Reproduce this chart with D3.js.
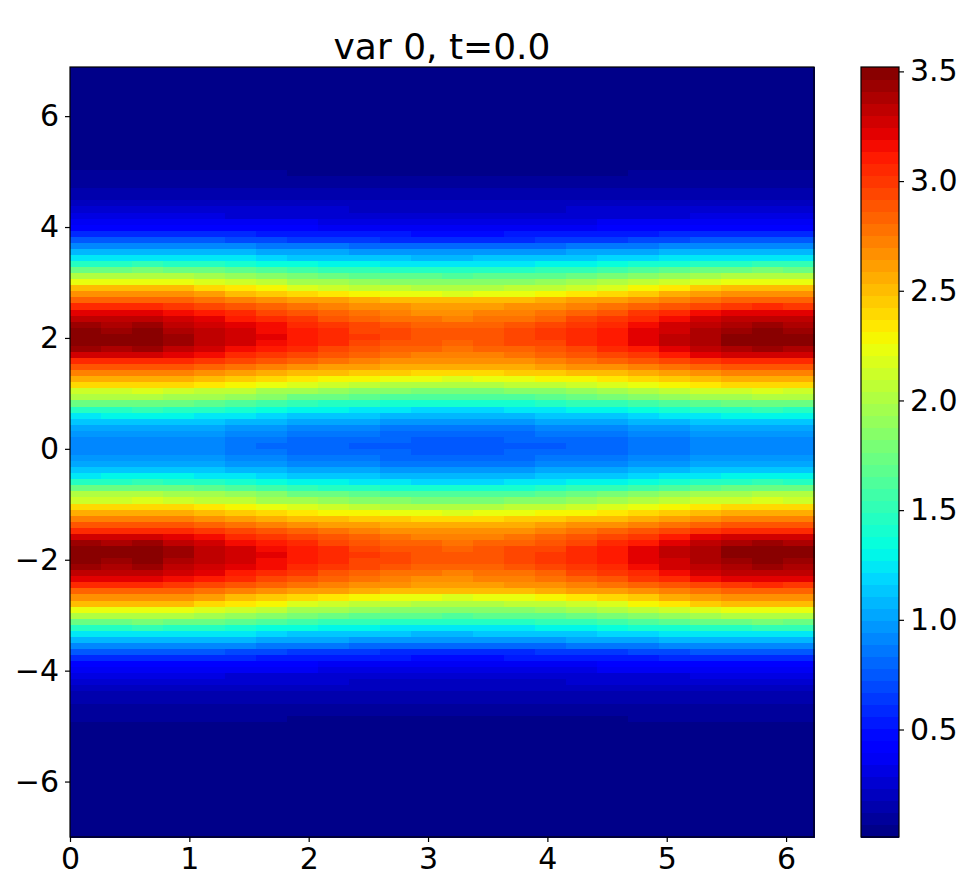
<!DOCTYPE html>
<html>
<head>
<meta charset="utf-8">
<script src="https://cdn.jsdelivr.net/npm/d3@7"></script>
<style>
html, body { margin: 0; padding: 0; background: #fff; }
svg { display: block; }
text { font-family: "DejaVu Sans", sans-serif; fill: #000; }
</style>
</head>
<body>
<svg id="chart" width="961" height="887"></svg>
<script>
var titleText = "var 0, t=0.0";
var xDomain = [0, 6.234];
var yDomain = [-7, 6.886];
var colorDomain = [0.01, 3.52];
var xTicks = [0, 1, 2, 3, 4, 5, 6];
var yTicks = [-6, -4, -2, 0, 2, 4, 6];
var colorTicks = [0.5, 1.0, 1.5, 2.0, 2.5, 3.0, 3.5];
var colorLevelCount = 64;

var jetStops = [0, 0.11, 0.125, 0.34, 0.35, 0.375, 0.64, 0.65, 0.66, 0.89, 0.91, 1];
var jetColors = ["#000080", "#0000ff", "#0000ff", "#00dbff", "#00e6f7", "#00ffe2", "#efff08", "#f7f500", "#ffec00", "#ff1300", "#e80000", "#800000"];

// values, in hundredths: one row per band from the top, 24 stations along x
var fieldRows = [
[1,1,1,1,1,1,1,1,1,1,1,1,1,1,1,1,1,1,1,1,1,1,1,1],
[1,1,1,1,1,1,1,1,1,1,1,1,1,1,1,1,1,1,1,1,1,1,1,1],
[1,1,1,1,1,1,1,1,1,1,1,1,1,1,1,1,1,1,1,1,1,1,1,1],
[1,1,1,1,1,1,1,1,1,1,1,1,1,1,1,1,1,1,1,1,1,1,1,1],
[1,1,1,1,1,1,1,1,1,1,1,1,1,1,1,1,1,1,1,1,1,1,1,1],
[1,1,1,1,1,1,1,1,1,1,1,1,1,1,1,1,1,1,1,1,1,1,1,1],
[1,1,1,1,1,1,1,1,1,1,1,1,1,1,1,1,1,1,1,1,1,1,1,1],
[1,1,1,1,1,1,1,1,1,1,1,1,1,1,1,1,1,1,1,1,1,1,1,1],
[1,1,1,1,1,1,1,1,1,1,1,1,1,1,1,1,1,1,1,1,1,1,1,1],
[1,1,1,1,1,1,1,1,1,1,1,1,1,1,1,1,1,1,1,1,1,1,1,1],
[1,1,1,1,1,1,1,1,1,1,1,1,1,1,1,1,1,1,1,1,1,1,1,1],
[2,2,2,2,2,2,2,2,2,2,2,2,2,2,2,2,2,2,2,2,2,2,2,2],
[2,2,2,2,2,2,2,2,2,2,2,2,2,2,2,2,2,2,2,2,2,2,2,2],
[3,3,3,3,3,3,3,3,3,3,3,3,3,3,3,3,3,3,3,3,3,3,3,3],
[4,4,4,4,4,4,4,3,3,3,3,3,3,3,3,3,3,3,4,4,4,4,4,4],
[5,5,5,5,5,5,5,4,4,4,4,4,4,4,4,4,4,4,5,5,5,5,5,5],
[6,6,6,6,6,6,6,5,5,5,5,5,5,5,5,5,5,5,6,6,6,6,6,6],
[7,7,7,7,7,7,7,6,6,6,6,6,6,6,6,6,6,6,7,7,7,7,7,7],
[9,9,9,9,9,9,9,8,8,8,8,8,8,8,8,8,8,8,9,9,9,9,9,9],
[11,11,11,11,11,11,11,10,10,10,10,10,10,10,10,10,10,10,11,11,11,11,11,11],
[13,13,13,13,13,13,13,12,12,12,12,12,12,12,12,12,12,12,13,13,13,13,13,13],
[16,16,16,16,16,16,16,15,15,15,15,15,15,15,15,15,15,15,16,16,16,16,16,16],
[20,20,20,20,20,19,19,19,19,18,18,18,18,18,18,18,19,19,19,19,20,20,20,20],
[24,24,24,24,24,23,23,23,23,22,22,22,22,22,22,22,23,23,23,23,24,24,24,24],
[29,29,29,29,29,28,28,28,28,27,27,27,27,27,27,27,28,28,28,28,29,29,29,29],
[35,36,36,36,35,35,34,34,33,33,32,32,32,32,32,33,33,34,34,35,35,36,36,36],
[42,43,43,43,42,41,41,40,39,39,38,38,38,38,38,39,39,40,41,42,42,43,43,43],
[58,59,59,59,58,56,55,53,52,51,51,50,50,50,51,52,53,54,55,56,58,59,59,59],
[73,75,75,74,73,70,68,66,64,62,61,60,60,60,61,63,64,66,68,71,73,74,75,75],
[92,94,94,93,92,90,87,85,84,82,81,80,80,80,81,82,84,86,88,90,92,93,94,94],
[108,110,110,109,108,106,104,102,101,99,98,97,97,97,98,99,101,102,104,106,108,109,110,110],
[125,126,127,126,124,122,119,116,115,113,111,110,110,111,112,113,115,117,119,122,124,126,127,127],
[147,149,150,149,146,142,138,135,132,129,127,126,125,126,127,129,132,135,139,143,146,149,150,150],
[176,176,177,176,172,167,162,157,154,150,148,146,145,146,148,150,154,158,162,167,172,176,177,176],
[199,199,200,199,194,189,183,178,174,171,168,166,165,166,168,171,175,179,184,190,195,199,200,199],
[224,224,225,223,218,211,204,198,194,189,185,183,182,183,186,189,194,199,205,212,219,223,225,224],
[249,249,250,248,242,234,226,219,214,208,204,201,200,202,205,209,214,220,227,235,243,248,250,249],
[267,267,268,266,260,253,245,238,233,228,224,221,220,221,224,228,233,239,246,254,261,266,268,267],
[285,285,285,281,276,272,268,263,259,256,253,251,250,251,253,256,260,264,269,275,280,284,285,284],
[303,303,303,298,293,287,283,278,273,269,265,263,262,263,266,269,273,278,284,291,297,301,303,302],
[324,323,324,317,310,303,297,289,283,277,272,269,268,270,273,278,284,290,298,307,316,322,324,323],
[335,334,335,328,320,312,306,298,291,285,280,276,275,277,280,285,292,299,307,317,326,333,335,334],
[342,341,342,335,328,320,314,306,300,293,289,285,284,286,289,294,300,307,315,325,333,340,342,341],
[347,346,347,340,333,325,319,310,304,297,293,289,288,290,293,298,305,312,320,329,338,345,347,346],
[350,349,350,343,335,326,321,312,305,299,294,290,289,291,294,299,306,313,322,332,341,348,350,349],
[350,349,350,342,335,326,319,310,303,296,291,287,286,288,292,297,304,312,321,331,340,347,350,349],
[342,341,342,335,327,319,312,304,297,290,285,281,280,282,286,291,297,305,313,323,333,340,342,341],
[328,327,328,321,314,307,301,293,287,281,276,273,272,274,277,282,288,294,302,311,320,326,328,327],
[306,306,307,305,300,294,287,281,276,272,268,266,265,266,269,272,277,282,288,294,301,305,307,306],
[289,289,290,289,284,279,273,268,264,261,258,256,255,256,258,261,265,269,274,280,285,289,290,289],
[271,271,272,271,267,262,257,252,249,245,243,241,240,241,243,245,249,253,257,262,267,271,272,271],
[254,254,255,254,249,244,238,233,229,226,223,221,220,221,223,226,230,234,239,245,250,254,255,254],
[239,239,240,238,234,227,221,215,211,206,203,201,200,201,204,207,211,216,222,228,234,238,240,239],
[214,214,215,214,209,204,198,193,189,186,183,181,180,181,183,186,190,194,199,205,210,214,215,214],
[199,199,200,198,194,188,182,176,172,168,165,163,162,163,165,168,173,177,183,189,194,198,200,199],
[174,174,175,174,169,164,158,153,149,146,143,141,140,141,143,146,150,154,159,165,170,174,175,174],
[149,149,150,149,145,140,136,131,128,125,122,121,120,121,123,125,128,132,136,141,146,149,150,149],
[127,129,130,129,126,123,119,116,113,111,109,107,107,108,109,111,113,116,119,123,127,129,130,130],
[112,114,115,114,112,109,106,104,102,100,98,97,97,98,99,100,102,104,107,110,112,114,115,115],
[100,102,102,101,100,97,95,93,91,89,88,87,87,87,88,90,91,93,95,98,100,101,102,102],
[95,97,97,96,95,92,90,88,86,84,83,82,82,82,83,85,86,88,90,93,95,96,97,97],
[91,93,93,92,90,88,85,83,81,80,78,77,77,77,78,80,81,83,86,88,91,92,93,93],
[89,91,92,91,89,86,83,81,79,77,75,74,74,75,76,77,79,81,84,87,89,91,92,92],
[91,93,93,92,90,88,85,83,81,80,78,77,77,77,78,80,81,83,86,88,91,92,93,93],
[95,97,97,96,95,92,90,88,86,84,83,82,82,82,83,85,86,88,90,93,95,96,97,97],
[100,102,102,101,100,97,95,93,91,89,88,87,87,87,88,90,91,93,95,98,100,101,102,102],
[112,114,115,114,112,109,106,104,102,100,98,97,97,98,99,100,102,104,107,110,112,114,115,115],
[127,129,130,129,126,123,119,116,113,111,109,107,107,108,109,111,113,116,119,123,127,129,130,130],
[149,149,150,149,145,140,136,131,128,125,122,121,120,121,123,125,128,132,136,141,146,149,150,149],
[174,174,175,174,169,164,158,153,149,146,143,141,140,141,143,146,150,154,159,165,170,174,175,174],
[199,199,200,198,194,188,182,176,172,168,165,163,162,163,165,168,173,177,183,189,194,198,200,199],
[214,214,215,214,209,204,198,193,189,186,183,181,180,181,183,186,190,194,199,205,210,214,215,214],
[239,239,240,238,234,227,221,215,211,206,203,201,200,201,204,207,211,216,222,228,234,238,240,239],
[254,254,255,254,249,244,238,233,229,226,223,221,220,221,223,226,230,234,239,245,250,254,255,254],
[271,271,272,271,267,262,257,252,249,245,243,241,240,241,243,245,249,253,257,262,267,271,272,271],
[289,289,290,289,284,279,273,268,264,261,258,256,255,256,258,261,265,269,274,280,285,289,290,289],
[306,306,307,305,300,294,287,281,276,272,268,266,265,266,269,272,277,282,288,294,301,305,307,306],
[328,327,328,321,314,307,301,293,287,281,276,273,272,274,277,282,288,294,302,311,320,326,328,327],
[342,341,342,335,327,319,312,304,297,290,285,281,280,282,286,291,297,305,313,323,333,340,342,341],
[350,349,350,342,335,326,319,310,303,296,291,287,286,288,292,297,304,312,321,331,340,347,350,349],
[350,349,350,343,335,326,321,312,305,299,294,290,289,291,294,299,306,313,322,332,341,348,350,349],
[347,346,347,340,333,325,319,310,304,297,293,289,288,290,293,298,305,312,320,329,338,345,347,346],
[342,341,342,335,328,320,314,306,300,293,289,285,284,286,289,294,300,307,315,325,333,340,342,341],
[335,334,335,328,320,312,306,298,291,285,280,276,275,277,280,285,292,299,307,317,326,333,335,334],
[324,323,324,317,310,303,297,289,283,277,272,269,268,270,273,278,284,290,298,307,316,322,324,323],
[303,303,303,298,293,287,283,278,273,269,265,263,262,263,266,269,273,278,284,291,297,301,303,302],
[285,285,285,281,276,272,268,263,259,256,253,251,250,251,253,256,260,264,269,275,280,284,285,284],
[267,267,268,266,260,253,245,238,233,228,224,221,220,221,224,228,233,239,246,254,261,266,268,267],
[249,249,250,248,242,234,226,219,214,208,204,201,200,202,205,209,214,220,227,235,243,248,250,249],
[224,224,225,223,218,211,204,198,194,189,185,183,182,183,186,189,194,199,205,212,219,223,225,224],
[199,199,200,199,194,189,183,178,174,171,168,166,165,166,168,171,175,179,184,190,195,199,200,199],
[176,176,177,176,172,167,162,157,154,150,148,146,145,146,148,150,154,158,162,167,172,176,177,176],
[147,149,150,149,146,142,138,135,132,129,127,126,125,126,127,129,132,135,139,143,146,149,150,150],
[125,126,127,126,124,122,119,116,115,113,111,110,110,111,112,113,115,117,119,122,124,126,127,127],
[108,110,110,109,108,106,104,102,101,99,98,97,97,97,98,99,101,102,104,106,108,109,110,110],
[92,94,94,93,92,90,87,85,84,82,81,80,80,80,81,82,84,86,88,90,92,93,94,94],
[73,75,75,74,73,70,68,66,64,62,61,60,60,60,61,63,64,66,68,71,73,74,75,75],
[58,59,59,59,58,56,55,53,52,51,51,50,50,50,51,52,53,54,55,56,58,59,59,59],
[42,43,43,43,42,41,41,40,39,39,38,38,38,38,38,39,39,40,41,42,42,43,43,43],
[35,36,36,36,35,35,34,34,33,33,32,32,32,32,32,33,33,34,34,35,35,36,36,36],
[29,29,29,29,29,28,28,28,28,27,27,27,27,27,27,27,28,28,28,28,29,29,29,29],
[24,24,24,24,24,23,23,23,23,22,22,22,22,22,22,22,23,23,23,23,24,24,24,24],
[20,20,20,20,20,19,19,19,19,18,18,18,18,18,18,18,19,19,19,19,20,20,20,20],
[16,16,16,16,16,16,16,15,15,15,15,15,15,15,15,15,15,15,16,16,16,16,16,16],
[13,13,13,13,13,13,13,12,12,12,12,12,12,12,12,12,12,12,13,13,13,13,13,13],
[11,11,11,11,11,11,11,10,10,10,10,10,10,10,10,10,10,10,11,11,11,11,11,11],
[9,9,9,9,9,9,9,8,8,8,8,8,8,8,8,8,8,8,9,9,9,9,9,9],
[7,7,7,7,7,7,7,6,6,6,6,6,6,6,6,6,6,6,7,7,7,7,7,7],
[6,6,6,6,6,6,6,5,5,5,5,5,5,5,5,5,5,5,6,6,6,6,6,6],
[5,5,5,5,5,5,5,4,4,4,4,4,4,4,4,4,4,4,5,5,5,5,5,5],
[4,4,4,4,4,4,4,3,3,3,3,3,3,3,3,3,3,3,4,4,4,4,4,4],
[3,3,3,3,3,3,3,3,3,3,3,3,3,3,3,3,3,3,3,3,3,3,3,3],
[2,2,2,2,2,2,2,2,2,2,2,2,2,2,2,2,2,2,2,2,2,2,2,2],
[2,2,2,2,2,2,2,2,2,2,2,2,2,2,2,2,2,2,2,2,2,2,2,2],
[1,1,1,1,1,1,1,1,1,1,1,1,1,1,1,1,1,1,1,1,1,1,1,1],
[1,1,1,1,1,1,1,1,1,1,1,1,1,1,1,1,1,1,1,1,1,1,1,1],
[1,1,1,1,1,1,1,1,1,1,1,1,1,1,1,1,1,1,1,1,1,1,1,1],
[1,1,1,1,1,1,1,1,1,1,1,1,1,1,1,1,1,1,1,1,1,1,1,1],
[1,1,1,1,1,1,1,1,1,1,1,1,1,1,1,1,1,1,1,1,1,1,1,1],
[1,1,1,1,1,1,1,1,1,1,1,1,1,1,1,1,1,1,1,1,1,1,1,1],
[1,1,1,1,1,1,1,1,1,1,1,1,1,1,1,1,1,1,1,1,1,1,1,1],
[1,1,1,1,1,1,1,1,1,1,1,1,1,1,1,1,1,1,1,1,1,1,1,1],
[1,1,1,1,1,1,1,1,1,1,1,1,1,1,1,1,1,1,1,1,1,1,1,1],
[1,1,1,1,1,1,1,1,1,1,1,1,1,1,1,1,1,1,1,1,1,1,1,1],
[1,1,1,1,1,1,1,1,1,1,1,1,1,1,1,1,1,1,1,1,1,1,1,1],
[1,1,1,1,1,1,1,1,1,1,1,1,1,1,1,1,1,1,1,1,1,1,1,1],
[1,1,1,1,1,1,1,1,1,1,1,1,1,1,1,1,1,1,1,1,1,1,1,1]
];

var cfg = {
    plot: { left: 70, right: 814, top: 67, bottom: 837 },
    bar: { left: 861, right: 899 },
    tickSize: 5,
    tickPadding: 6,
    tickFont: 30,
    titleFont: 36
};

var svg = d3.select("#chart");

var jet = d3.scaleLinear().domain(jetStops).range(jetColors).clamp(true);
var colorScale = d3.scaleQuantize()
    .domain(colorDomain)
    .range(d3.range(colorLevelCount).map(function (i) {
        return jet((i + 0.5) / colorLevelCount);
    }));

var xScale = d3.scaleLinear().domain(xDomain).range([cfg.plot.left, cfg.plot.right]);
var yScale = d3.scaleLinear().domain(yDomain).range([cfg.plot.bottom, cfg.plot.top]);
var barScale = d3.scaleLinear().domain(colorDomain).range([cfg.plot.bottom, cfg.plot.top]);

var rowBand = d3.scaleBand().domain(d3.range(fieldRows.length)).range([cfg.plot.top, cfg.plot.bottom]);
var colBand = d3.scaleBand().domain(d3.range(fieldRows[0].length)).range([cfg.plot.left, cfg.plot.right]);

// heat map cells
var cells = [];
fieldRows.forEach(function (row, r) {
    row.forEach(function (v, c) {
        cells.push({ r: r, c: c, value: v / 100 });
    });
});
svg.append("g")
    .attr("shape-rendering", "crispEdges")
    .selectAll("rect")
    .data(cells)
    .enter()
    .append("rect")
    .attr("x", function (d) { return colBand(d.c); })
    .attr("y", function (d) { return rowBand(d.r); })
    .attr("width", colBand.bandwidth() + 0.5)
    .attr("height", rowBand.bandwidth() + 0.5)
    .attr("fill", function (d) { return colorScale(d.value); });

// colour bar, one rect per level
var levelHeight = (cfg.plot.bottom - cfg.plot.top) / colorLevelCount;
svg.append("g")
    .attr("shape-rendering", "crispEdges")
    .selectAll("rect")
    .data(colorScale.range())
    .enter()
    .append("rect")
    .attr("x", cfg.bar.left)
    .attr("y", function (d, i) { return cfg.plot.bottom - (i + 1) * levelHeight; })
    .attr("width", cfg.bar.right - cfg.bar.left)
    .attr("height", levelHeight + 0.5)
    .attr("fill", function (d) { return d; });

// frames
function frame(x0, x1) {
    svg.append("rect")
        .attr("x", x0)
        .attr("y", cfg.plot.top)
        .attr("width", x1 - x0)
        .attr("height", cfg.plot.bottom - cfg.plot.top)
        .attr("fill", "none")
        .attr("stroke", "#000")
        .attr("stroke-width", 1.2);
}
frame(cfg.plot.left, cfg.plot.right);
frame(cfg.bar.left, cfg.bar.right);

// axes
function styleAxis(g) {
    g.select(".domain").remove();
    g.selectAll("line").attr("stroke", "#000").attr("stroke-width", 1.2);
    g.selectAll("text")
        .attr("fill", "#000")
        .style("font-size", cfg.tickFont + "px")
        .style("font-family", '"DejaVu Sans", sans-serif');
}

svg.append("g")
    .attr("transform", "translate(0," + cfg.plot.bottom + ")")
    .call(d3.axisBottom(xScale).tickValues(xTicks).tickFormat(d3.format("d")).tickSize(cfg.tickSize).tickPadding(cfg.tickPadding))
    .call(styleAxis);

svg.append("g")
    .attr("transform", "translate(" + cfg.plot.left + ",0)")
    .call(d3.axisLeft(yScale).tickValues(yTicks).tickFormat(d3.format("d")).tickSize(cfg.tickSize).tickPadding(cfg.tickPadding))
    .call(styleAxis);

svg.append("g")
    .attr("transform", "translate(" + cfg.bar.right + ",0)")
    .call(d3.axisRight(barScale).tickValues(colorTicks).tickFormat(d3.format(".1f")).tickSize(cfg.tickSize).tickPadding(cfg.tickPadding))
    .call(styleAxis);

svg.append("text")
    .attr("x", (cfg.plot.left + cfg.plot.right) / 2)
    .attr("y", 59)
    .attr("text-anchor", "middle")
    .style("font-size", cfg.titleFont + "px")
    .text(titleText);
</script>
</body>
</html>
